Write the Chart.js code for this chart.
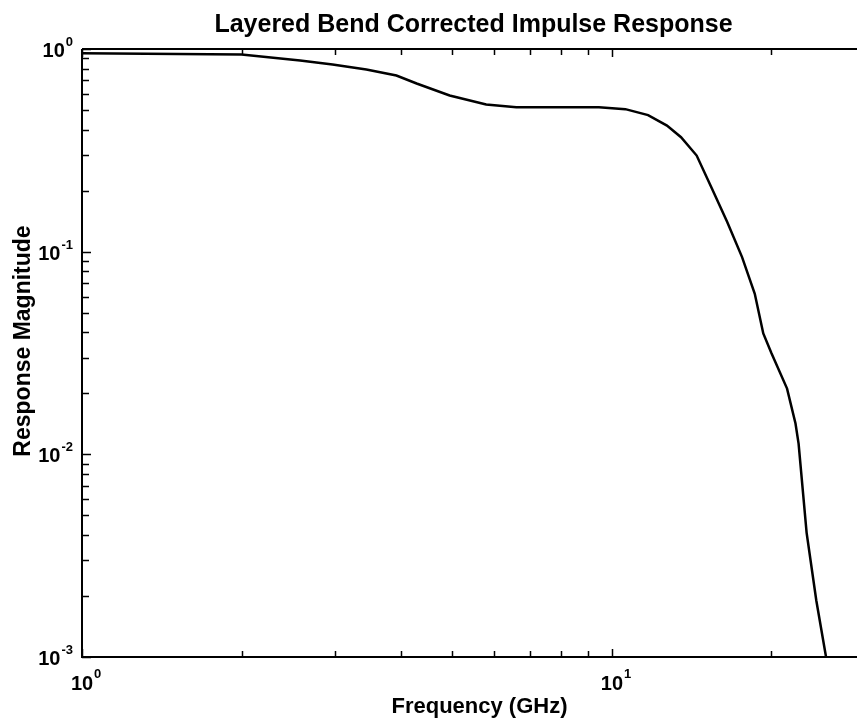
<!DOCTYPE html>
<html>
<head>
<meta charset="utf-8">
<script src="https://cdn.jsdelivr.net/npm/chart.js@4.4.1/dist/chart.umd.min.js"></script>
<style>
  html, body { margin: 0; padding: 0; background: #fff; }
  #wrap { width: 859px; height: 728px; }
</style>
</head>
<body>
<div id="wrap"><canvas id="chart"></canvas></div>
<script>
// frequency (GHz) and response magnitude
const FREQ = [1, 2.0, 2.58, 2.97, 3.44, 3.92, 4.28, 4.94, 5.79, 6.6, 7.6, 9.45,
  10.6, 11.7, 12.7, 13.5, 14.45, 15.4, 16.5, 17.6, 18.6, 19.3, 20.0, 21.4,
  22.2, 22.5, 23.3, 24.3, 25.35];
const MAG = [0.953, 0.939, 0.878, 0.839, 0.792, 0.74, 0.676, 0.59, 0.532, 0.516,
  0.516, 0.516, 0.505, 0.472, 0.419, 0.367, 0.298, 0.208, 0.14, 0.094, 0.062,
  0.0395, 0.0315, 0.0211, 0.0142, 0.0113, 0.0041, 0.0019, 0.001];

// decade tick labels (base 10, exponent drawn as superscript)
const X_DECADES = [1, 10];
const X_EXPONENTS = ["0", "1"];
const Y_DECADES = [1, 0.1, 0.01, 0.001];
const Y_EXPONENTS = ["0", "-1", "-2", "-3"];

const TITLE = "Layered Bend Corrected Impulse Response";
const X_TITLE = "Frequency (GHz)";
const Y_TITLE = "Response Magnitude";

const FONT = "'Liberation Sans', Arial, Helvetica, sans-serif";

// axes, ticks and labels in the MATLAB style (ticks inside the box)
const axesPlugin = {
  id: "matlabAxes",
  afterDraw(chart) {
    const ctx = chart.ctx;
    const area = chart.chartArea;
    const xs = chart.scales.x;
    const ys = chart.scales.y;

    ctx.save();
    ctx.strokeStyle = "#000";
    ctx.lineWidth = 2;
    ctx.lineCap = "butt";

    // box: left, bottom and top lines
    ctx.beginPath();
    ctx.moveTo(area.left, area.top);
    ctx.lineTo(area.left, area.bottom);
    ctx.lineTo(area.right, area.bottom);
    ctx.moveTo(area.left, area.top);
    ctx.lineTo(area.right, area.top);
    ctx.stroke();

    // x ticks (bottom and top)
    ctx.lineWidth = 1.5;
    ctx.beginPath();
    X_DECADES.forEach((d) => {
      for (let m = 1; m <= 9; m++) {
        const v = d * m;
        if (v < xs.min || v > xs.max) continue;
        const px = Math.round(xs.getPixelForValue(v)) + 0.5;
        const len = m === 1 ? 8 : 6;
        ctx.moveTo(px, area.bottom);
        ctx.lineTo(px, area.bottom - len);
        ctx.moveTo(px, area.top);
        ctx.lineTo(px, area.top + len);
      }
    });
    // y ticks (left)
    Y_DECADES.forEach((d) => {
      for (let m = 1; m <= 9; m++) {
        const v = d * m;
        if (v < ys.min || v > ys.max) continue;
        const py = Math.round(ys.getPixelForValue(v)) + 0.5;
        const len = m === 1 ? 9 : 7;
        ctx.moveTo(area.left, py);
        ctx.lineTo(area.left + len, py);
      }
    });
    ctx.stroke();

    ctx.fillStyle = "#000";

    // x tick labels: "10" centred on the tick, exponent up right
    X_DECADES.forEach((d, i) => {
      const px = xs.getPixelForValue(d);
      ctx.font = "bold 20px " + FONT;
      ctx.textAlign = "center";
      ctx.textBaseline = "alphabetic";
      const w = ctx.measureText("10").width;
      ctx.fillText("10", px, area.bottom + 33);
      ctx.font = "bold 13px " + FONT;
      ctx.textAlign = "left";
      ctx.fillText(X_EXPONENTS[i], px + w / 2 + 1, area.bottom + 21);
    });

    // y tick labels: right aligned left of the axis
    Y_DECADES.forEach((d, i) => {
      const py = ys.getPixelForValue(d);
      ctx.font = "bold 13px " + FONT;
      ctx.textAlign = "right";
      ctx.textBaseline = "alphabetic";
      const ew = ctx.measureText(Y_EXPONENTS[i]).width;
      const right = area.left - 9;
      ctx.fillText(Y_EXPONENTS[i], right, py - 3);
      ctx.font = "bold 20px " + FONT;
      ctx.fillText("10", right - ew - 1, py + 8);
    });

    // titles
    ctx.font = "bold 25px " + FONT;
    ctx.textAlign = "center";
    ctx.textBaseline = "alphabetic";
    ctx.fillText(TITLE, (area.left + area.right) / 2 + 4, 32);

    ctx.font = "bold 22px " + FONT;
    ctx.fillText(X_TITLE, (area.left + area.right) / 2 + 10, 713);

    ctx.font = "bold 23px " + FONT;
    ctx.translate(30, (area.top + area.bottom) / 2 - 12);
    ctx.rotate(-Math.PI / 2);
    ctx.fillText(Y_TITLE, 0, 0);

    ctx.restore();
  },
};

const points = FREQ.map((f, i) => ({ x: f, y: MAG[i] }));

new Chart(document.getElementById("chart"), {
  type: "line",
  data: {
    datasets: [
      {
        data: points,
        borderColor: "#000",
        borderWidth: 2.5,
        pointRadius: 0,
        tension: 0,
        fill: false,
      },
    ],
  },
  options: {
    responsive: true,
    maintainAspectRatio: false,
    animation: false,
    layout: { padding: { left: 82, right: 2, top: 49, bottom: 71 } },
    plugins: {
      legend: { display: false },
      tooltip: { enabled: false },
    },
    scales: {
      x: { type: "logarithmic", min: 1, max: 29, display: false },
      y: { type: "logarithmic", min: 0.001, max: 1, display: false },
    },
  },
  plugins: [axesPlugin],
});
</script>
</body>
</html>
